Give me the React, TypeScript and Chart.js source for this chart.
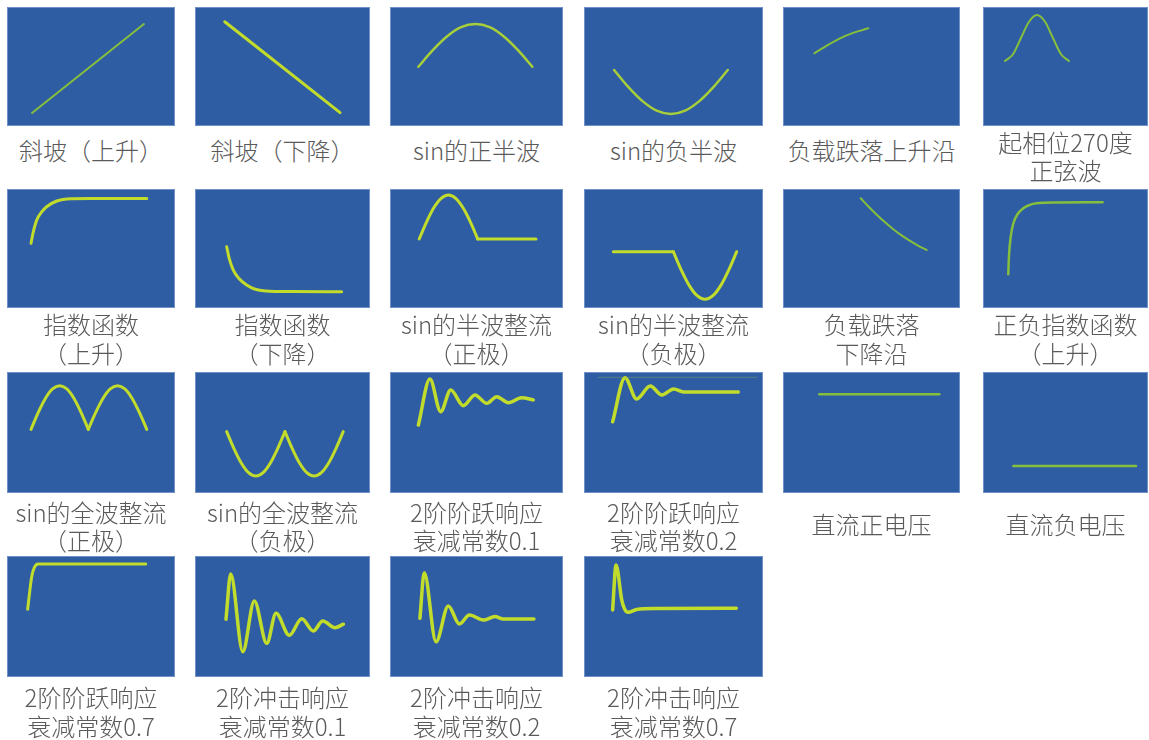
import React, { useEffect, useRef } from "react";
import { Chart, registerables } from "chart.js";

Chart.register(...registerables);

// ---- Data (x: 0..100 across panel, y: 0..100 bottom->top) ----
const rampUp = [[14.9, 11], [81.5, 85.7]];
const rampDown = [[17, 87.6], [82.9, 11.2]];
const sinPosHalf = [[16.4, 49.8], [24.6, 63.5], [32.9, 75.2], [41.1, 83.0], [49.4, 85.7], [57.6, 83.0], [65.8, 75.2], [74.1, 63.5], [82.3, 49.8]];
const sinNegHalf = [[16.8, 47.1], [24.7, 32.9], [32.7, 20.9], [40.6, 12.9], [48.6, 10.1], [56.5, 12.9], [64.4, 20.9], [72.4, 32.9], [80.3, 47.1]];
const loadRise = [[17.7, 61.1], [25, 67.8], [32.2, 73.7], [40, 78.5], [48.2, 82.1]];
const phase270 = [[13.3, 54.6], [18.2, 60.3], [23.0, 73.9], [27.9, 87.6], [32.7, 93.3], [37.6, 87.6], [42.4, 73.9], [47.3, 60.3], [52.1, 54.6]];

const expRise = [[14.3, 54.4], [15.5, 63], [17.7, 74], [20.5, 80.5], [23.6, 85.1], [29.6, 89.9], [35.5, 91.6], [50, 92], [83.2, 92]];
const expFall = [[18.1, 51.5], [19.5, 42], [21.9, 31.9], [25, 25], [29.5, 19.3], [34, 16], [40.4, 14.3], [55, 13.8], [83.8, 13.7]];
const halfPosArch = [[16.9, 58], [21.1, 72.2], [25.3, 84.2], [29.6, 92.2], [33.8, 95], [38.0, 92.2], [42.2, 84.2], [46.5, 72.2], [50.7, 58]];
const halfPosFlat = [[50.7, 58], [84.4, 58]];
const halfNegFlat = [[16.4, 47.3], [49.9, 47.3]];
const halfNegArch = [[49.9, 47.3], [54.3, 32.0], [58.75, 19.0], [63.2, 10.3], [67.6, 7.3], [72.0, 10.3], [76.45, 19.0], [80.9, 32.0], [85.3, 47.3]];
const loadFall = [[43.9, 92.2], [48, 85.7], [52.5, 79], [57.5, 72.2], [62.3, 66.2], [67, 61], [72, 56.2], [76.5, 52.3], [81.2, 48.7]];
const posNegExp = [[15.3, 28.3], [15.8, 45], [16.8, 60], [18.4, 71.2], [21, 79], [24.4, 83.8], [28, 86.5], [32.5, 88], [45, 88.6], [72.5, 88.8]];

const fullPosA = [[14.3, 52.6], [18.56, 66.4], [22.83, 78.1], [27.09, 86.0], [31.35, 88.7], [35.61, 86.0], [39.88, 78.1], [44.14, 66.4], [48.4, 52.6]];
const fullPosB = [[48.4, 52.6], [52.75, 66.4], [57.1, 78.1], [61.45, 86.0], [65.8, 88.7], [70.15, 86.0], [74.5, 78.1], [78.85, 66.4], [83.2, 52.6]];
const fullNegA = [[18.1, 50.7], [22.26, 36.7], [26.43, 24.8], [30.59, 16.8], [34.75, 14], [38.91, 16.8], [43.08, 24.8], [47.24, 36.7], [51.4, 50.7]];
const fullNegB = [[51.4, 50.7], [55.56, 36.7], [59.73, 24.8], [63.89, 16.8], [68.05, 14], [72.21, 16.8], [76.38, 24.8], [80.54, 36.7], [84.7, 50.7]];
const step01 = [[16.4, 56.2], [23.1, 94.2], [29.3, 67.2], [35.1, 85.1], [42.4, 72.2], [49.1, 81], [55.9, 74.1], [61.7, 79.6], [68.4, 74.6], [76.1, 78.8], [82.8, 76.9]];
const step02 = [[16.0, 58.9], [22.9, 95.3], [29.4, 77.7], [37.0, 88.4], [43.5, 81], [50.1, 86], [55.5, 83.5], [86.2, 83.5]];
const step02Ref = [[8.0, 95.6], [96.5, 95.6]];
const dcPos = [[20.5, 81.6], [88.3, 81.6]];
const dcNeg = [[18.4, 22.3], [92.7, 22.3]];

const step07 = [[12.3, 56], [14.7, 82.9], [16.3, 90.5], [18.5, 93.3], [82.6, 93.3]];
const impulse01 = [[17.7, 47.7], [20.4, 85.1], [27.3, 20.9], [33.9, 62.8], [41.0, 27.8], [46.3, 52.6], [53.9, 34.5], [61.0, 48.2], [67.6, 38], [73.0, 46.3], [80.0, 40.8], [84.8, 43.6]];
const impulse02 = [[17.3, 48.5], [19.8, 86.2], [26.6, 29.1], [33.7, 58.7], [40.1, 43.8], [45.9, 51.2], [54.0, 47.1], [60.7, 49.9], [65.5, 47.9], [83.2, 47.9]];
const impulse07 = [[16.0, 55.4], [17.9, 92.6], [21.1, 63.6], [22.6, 56.5], [24.7, 53.5], [29.4, 55.8], [40, 56.6], [85.1, 56.8]];

const labels = [
  ["斜坡（上升）"], ["斜坡（下降）"], ["sin的正半波"], ["sin的负半波"], ["负载跌落上升沿"], ["起相位270度", "正弦波"],
  ["指数函数", "（上升）"], ["指数函数", "（下降）"], ["sin的半波整流", "（正极）"], ["sin的半波整流", "（负极）"], ["负载跌落", "下降沿"], ["正负指数函数", "（上升）"],
  ["sin的全波整流", "（正极）"], ["sin的全波整流", "（负极）"], ["2阶阶跃响应", "衰减常数0.1"], ["2阶阶跃响应", "衰减常数0.2"], ["直流正电压"], ["直流负电压"],
  ["2阶阶跃响应", "衰减常数0.7"], ["2阶冲击响应", "衰减常数0.1"], ["2阶冲击响应", "衰减常数0.2"], ["2阶冲击响应", "衰减常数0.7"],
];

// ---- Styles / layout ----
const BLUE = "#2f5da3";
const YELLOW = "#c2dc2c";
const MID = "#a8cf3a";
const GREEN = "#86bf3c";

type Seg = { pts: number[][]; color: string; width: number; linear?: boolean };

const panels: Seg[][] = [
  [{ pts: rampUp, color: GREEN, width: 2 }],
  [{ pts: rampDown, color: YELLOW, width: 3 }],
  [{ pts: sinPosHalf, color: MID, width: 2.5 }],
  [{ pts: sinNegHalf, color: MID, width: 2.5 }],
  [{ pts: loadRise, color: GREEN, width: 2 }],
  [{ pts: phase270, color: GREEN, width: 2 }],
  [{ pts: expRise, color: YELLOW, width: 3 }],
  [{ pts: expFall, color: YELLOW, width: 3 }],
  [{ pts: halfPosArch, color: YELLOW, width: 3 }, { pts: halfPosFlat, color: YELLOW, width: 3 }],
  [{ pts: halfNegFlat, color: YELLOW, width: 3 }, { pts: halfNegArch, color: YELLOW, width: 3 }],
  [{ pts: loadFall, color: GREEN, width: 2 }],
  [{ pts: posNegExp, color: GREEN, width: 2.5 }],
  [{ pts: fullPosA, color: YELLOW, width: 3 }, { pts: fullPosB, color: YELLOW, width: 3 }],
  [{ pts: fullNegA, color: YELLOW, width: 3 }, { pts: fullNegB, color: YELLOW, width: 3 }],
  [{ pts: step01, color: YELLOW, width: 3.5 }],
  [{ pts: step02Ref, color: "rgba(130,170,90,0.45)", width: 1, linear: true }, { pts: step02, color: YELLOW, width: 3.5 }],
  [{ pts: dcPos, color: GREEN, width: 2.5 }],
  [{ pts: dcNeg, color: GREEN, width: 2.5 }],
  [{ pts: step07, color: YELLOW, width: 3 }],
  [{ pts: impulse01, color: YELLOW, width: 3.5 }],
  [{ pts: impulse02, color: YELLOW, width: 3.5 }],
  [{ pts: impulse07, color: YELLOW, width: 3.5 }],
];

const colLeft = [7, 195, 390, 584, 783, 983];
const colWidth = [168, 175, 173, 179, 177, 165];
const rowTop = [7, 189, 372, 556];
const rowHeight = [119, 119, 121, 121];
const labelTop2 = [127.7, 310.2, 497.7, 683.2];
const labelTop1 = [136.4, 310.2, 509.7, 683.2];

const bgPlugin = {
  id: "panelBg",
  beforeDraw(chart: any) {
    const { ctx, width, height } = chart;
    ctx.save();
    ctx.fillStyle = BLUE;
    ctx.fillRect(0, 0, width, height);
    ctx.strokeStyle = "rgba(140,170,215,0.7)";
    ctx.lineWidth = 1;
    ctx.strokeRect(0.5, 0.5, width - 1, height - 1);
    ctx.restore();
  },
};

function Panel({ segs, w, h }: { segs: Seg[]; w: number; h: number }) {
  const ref = useRef<HTMLCanvasElement | null>(null);
  useEffect(() => {
    if (!ref.current) return;
    const chart = new Chart(ref.current, {
      type: "line",
      data: {
        datasets: segs.map((s) => ({
          data: s.pts.map(([x, y]) => ({ x, y })),
          borderColor: s.color,
          borderWidth: s.width,
          pointRadius: 0,
          fill: false,
          cubicInterpolationMode: s.linear ? "default" : "monotone",
          tension: 0,
          borderCapStyle: "round",
          borderJoinStyle: "round",
        })) as any,
      },
      options: {
        animation: false,
        responsive: false,
        events: [],
        layout: { padding: 0 },
        plugins: { legend: { display: false }, tooltip: { enabled: false } },
        scales: {
          x: { type: "linear", min: 0, max: 100, display: false },
          y: { type: "linear", min: 0, max: 100, display: false },
        },
      },
      plugins: [bgPlugin],
    });
    return () => chart.destroy();
  }, [segs, w, h]);
  return <canvas ref={ref} width={w} height={h} style={{ width: w, height: h, display: "block" }} />;
}

export default function App() {
  return (
    <div style={{ position: "absolute", left: 0, top: 0, width: 1149, height: 740, background: "#fff", overflow: "hidden" }}>
      {panels.map((segs, i) => {
        const r = Math.floor(i / 6);
        const c = i % 6;
        const lab = labels[i];
        return (
          <React.Fragment key={i}>
            <div style={{ position: "absolute", left: colLeft[c], top: rowTop[r], width: colWidth[c], height: rowHeight[r] }}>
              <Panel segs={segs} w={colWidth[c]} h={rowHeight[r]} />
            </div>
            <div
              style={{
                position: "absolute",
                left: colLeft[c] - 15,
                width: colWidth[c] + 30,
                top: lab.length > 1 ? labelTop2[r] : labelTop1[r],
                textAlign: "center",
                fontFamily: '"Noto Sans CJK SC", "Noto Sans", sans-serif',
                fontSize: 24,
                fontWeight: 300,
                lineHeight: "28.5px",
                color: "#5a5a5a",
                whiteSpace: "nowrap",
              }}
            >
              {lab.map((t, k) => (
                <div key={k}>{t}</div>
              ))}
            </div>
          </React.Fragment>
        );
      })}
    </div>
  );
}
